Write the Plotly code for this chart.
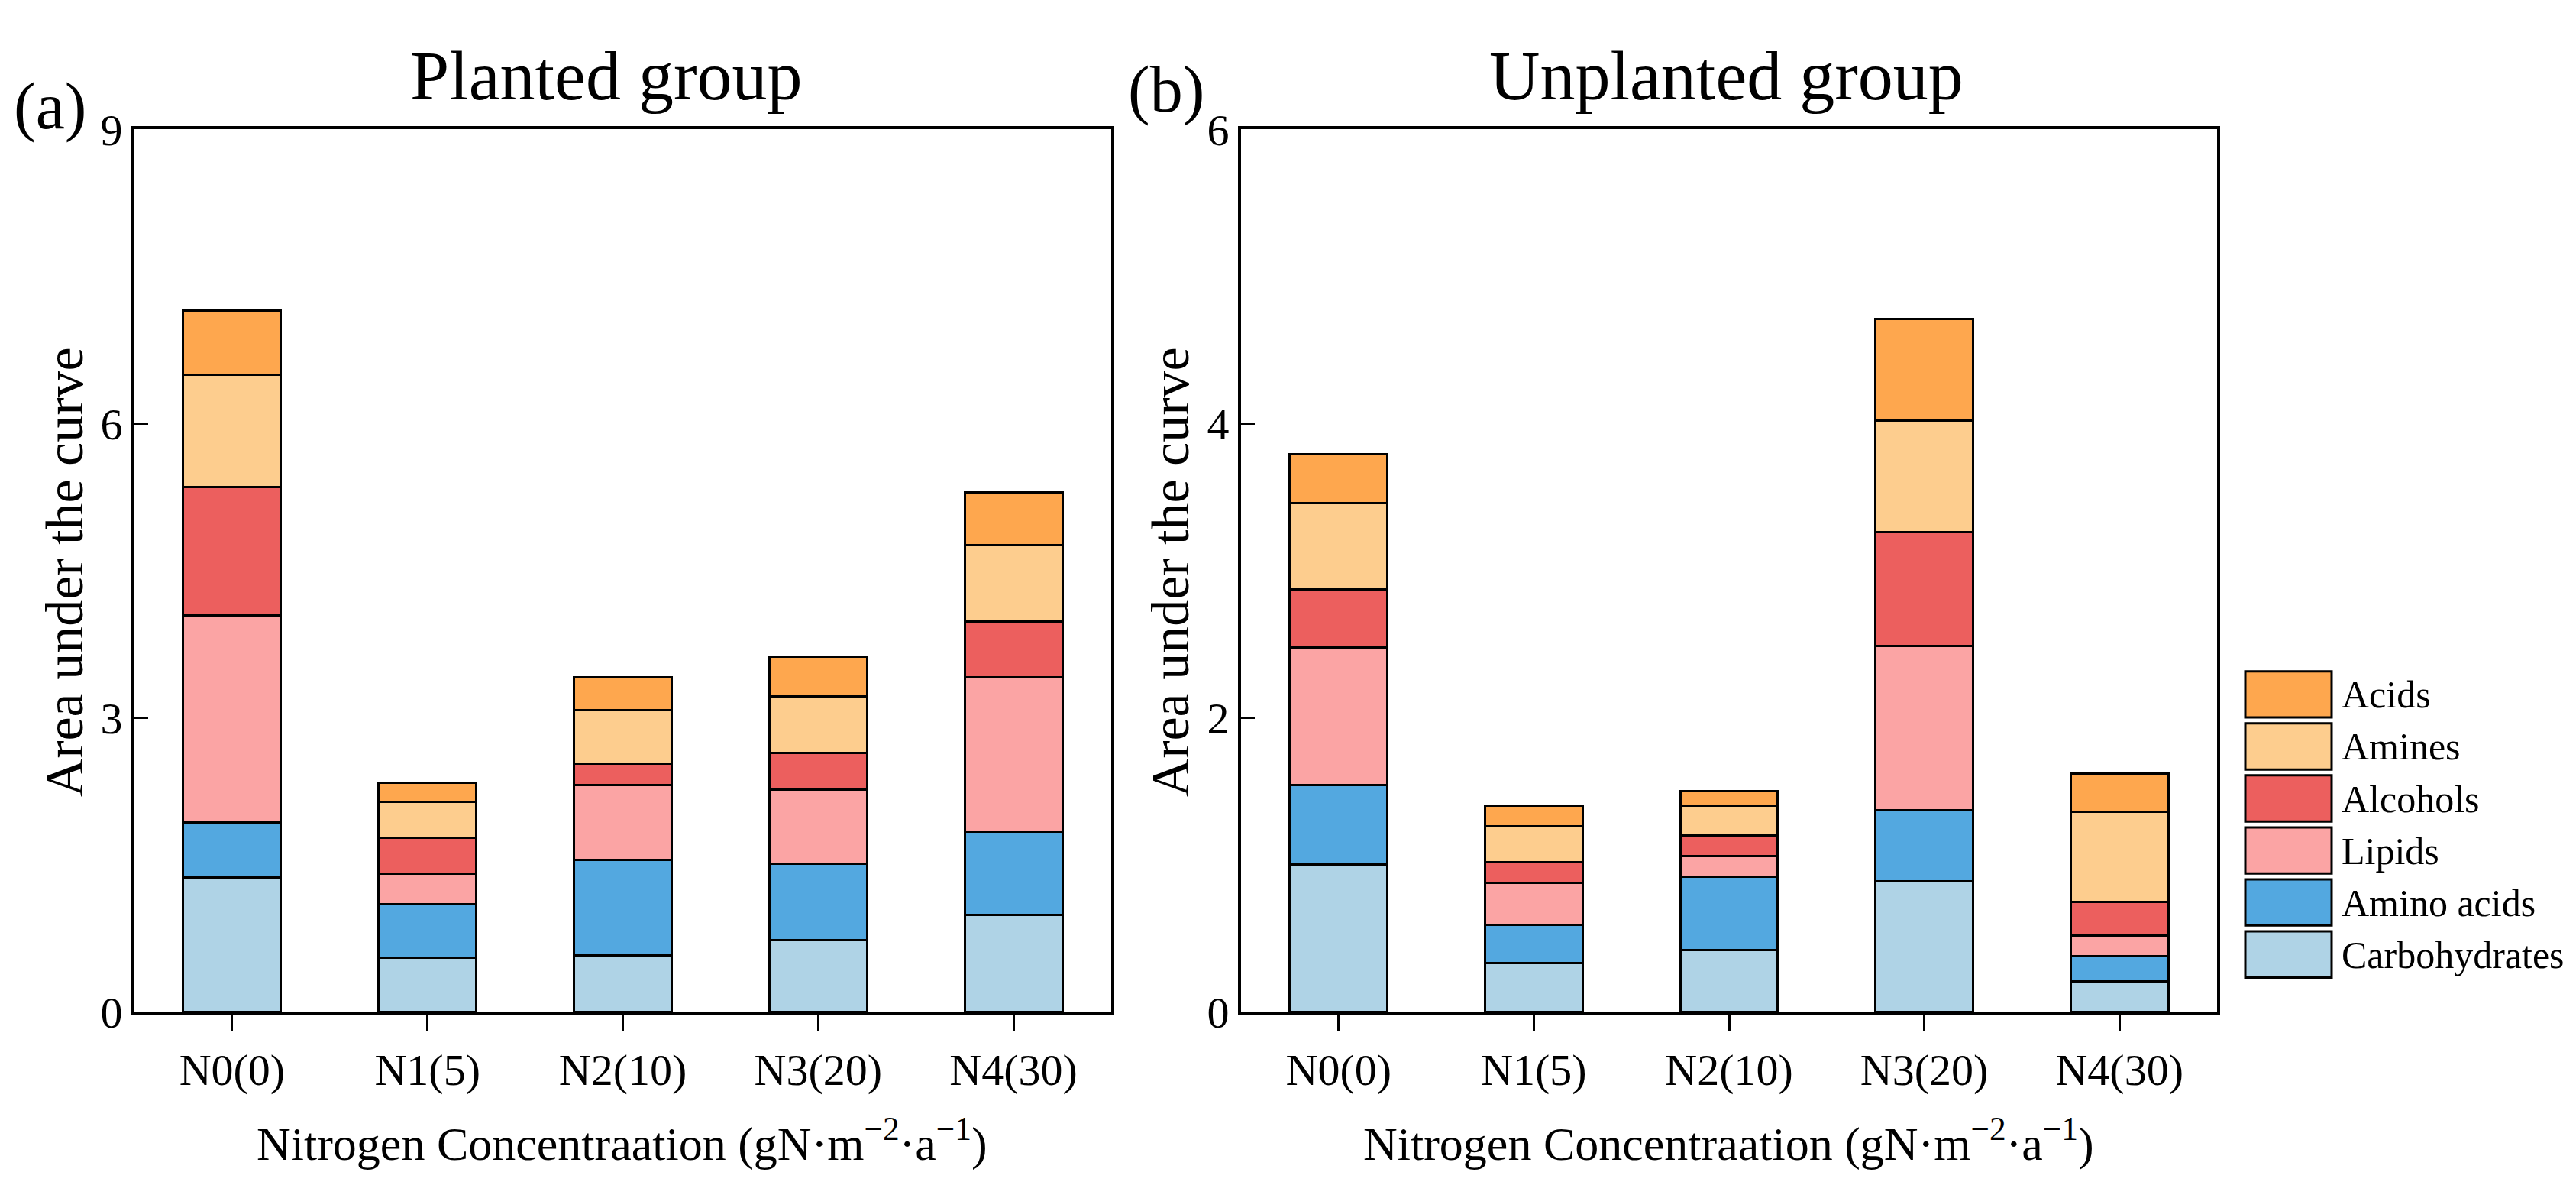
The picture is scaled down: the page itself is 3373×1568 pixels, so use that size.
import plotly.graph_objects as go

# nitrogen levels on the x axis
groups = ["N0(0)", "N1(5)", "N2(10)", "N3(20)", "N4(30)"]

# stacking order, bottom to top
parts = ["Carbohydrates", "Amino acids", "Lipids", "Alcohols", "Amines", "Acids"]
colors = ["#AFD3E6", "#53A8E0", "#FBA4A4", "#EC5F5E", "#FDCD8E", "#FEA74E"]

# planted group, area under the curve for each part
planted_carbohydrates = [1.37, 0.55, 0.58, 0.73, 0.99]
planted_amino_acids = [0.56, 0.55, 0.97, 0.78, 0.85]
planted_lipids = [2.11, 0.31, 0.76, 0.76, 1.57]
planted_alcohols = [1.31, 0.37, 0.22, 0.37, 0.57]
planted_amines = [1.15, 0.36, 0.55, 0.58, 0.78]
planted_acids = [0.65, 0.20, 0.33, 0.40, 0.54]

# unplanted group
unplanted_carbohydrates = [1.00, 0.33, 0.42, 0.89, 0.21]
unplanted_amino_acids = [0.54, 0.26, 0.50, 0.48, 0.17]
unplanted_lipids = [0.94, 0.29, 0.14, 1.12, 0.14]
unplanted_alcohols = [0.39, 0.14, 0.14, 0.77, 0.23]
unplanted_amines = [0.59, 0.24, 0.20, 0.76, 0.61]
unplanted_acids = [0.33, 0.14, 0.10, 0.69, 0.26]

planted = [planted_carbohydrates, planted_amino_acids, planted_lipids,
           planted_alcohols, planted_amines, planted_acids]
unplanted = [unplanted_carbohydrates, unplanted_amino_acids, unplanted_lipids,
             unplanted_alcohols, unplanted_amines, unplanted_acids]

W, H = 3373, 1568
FONT = "Liberation Serif"

def px(x):
    return x / W

def py(y):
    return 1 - y / H

fig = go.Figure()
for i in range(len(parts)):
    fig.add_trace(go.Bar(x=groups, y=planted[i], name=parts[i], marker_color=colors[i],
                         marker_line=dict(color="black", width=3),
                         xaxis="x", yaxis="y", showlegend=False))
    fig.add_trace(go.Bar(x=groups, y=unplanted[i], name=parts[i], marker_color=colors[i],
                         marker_line=dict(color="black", width=3),
                         xaxis="x2", yaxis="y2", showlegend=False))

axis_style = dict(showline=True, linecolor="black", linewidth=4, mirror=True,
                  tickwidth=3, tickcolor="black", showgrid=False, zeroline=False,
                  tickfont=dict(family=FONT, size=58, color="black"))
x_style = dict(ticks="outside", ticklen=22, **axis_style)
# y ticks point into the plot in the original
y_style = dict(ticks="inside", ticklen=18, **axis_style)

fig.update_layout(
    width=W, height=H,
    margin=dict(l=0, r=0, t=0, b=0),
    plot_bgcolor="white", paper_bgcolor="white",
    barmode="stack", bargap=0.5,
    xaxis=dict(domain=[px(168), px(1447)], anchor="y", **x_style),
    yaxis=dict(domain=[py(1340), py(135)], anchor="x", range=[0, 9],
               tickvals=[0, 3, 6, 9], **y_style),
    xaxis2=dict(domain=[px(1617), px(2895)], anchor="y2", **x_style),
    yaxis2=dict(domain=[py(1340), py(135)], anchor="x2", range=[0, 6],
                tickvals=[0, 2, 4, 6], **y_style),
)

xtitle = "Nitrogen Concentraation (gN·m<sup>−2</sup>·a<sup>−1</sup>)"
texts = [
    ("Planted group", 786, 62, 92, 0),
    ("Unplanted group", 2252, 62, 92, 0),
    ("(a)", 57, 103, 86, 0),
    ("(b)", 1519, 80, 86, 0),
    ("Area under the curve", 76, 740, 70, -90),
    ("Area under the curve", 1524, 740, 70, -90),
    (xtitle, 806, 1515, 62, 0),
    (xtitle, 2255, 1515, 62, 0),
]
for t, x, y, size, angle in texts:
    fig.add_annotation(text=t, x=px(x), y=py(y), xref="paper", yref="paper",
                       xanchor="center", yanchor="middle", showarrow=False,
                       textangle=angle, font=dict(family=FONT, size=size, color="black"))

# legend drawn by hand so the boxes are as big as in the original
for i, name in enumerate(parts[::-1]):
    top = 875 + i * 71
    fig.add_shape(type="rect", xref="paper", yref="paper",
                  x0=px(2932), x1=px(3045), y0=py(top + 63), y1=py(top),
                  fillcolor=colors[::-1][i], line=dict(color="black", width=3))
    fig.add_annotation(text=name, x=px(3056), y=py(top + 32), xref="paper", yref="paper",
                       xanchor="left", yanchor="middle", showarrow=False,
                       font=dict(family=FONT, size=50, color="black"))

fig.write_html("out.html")
